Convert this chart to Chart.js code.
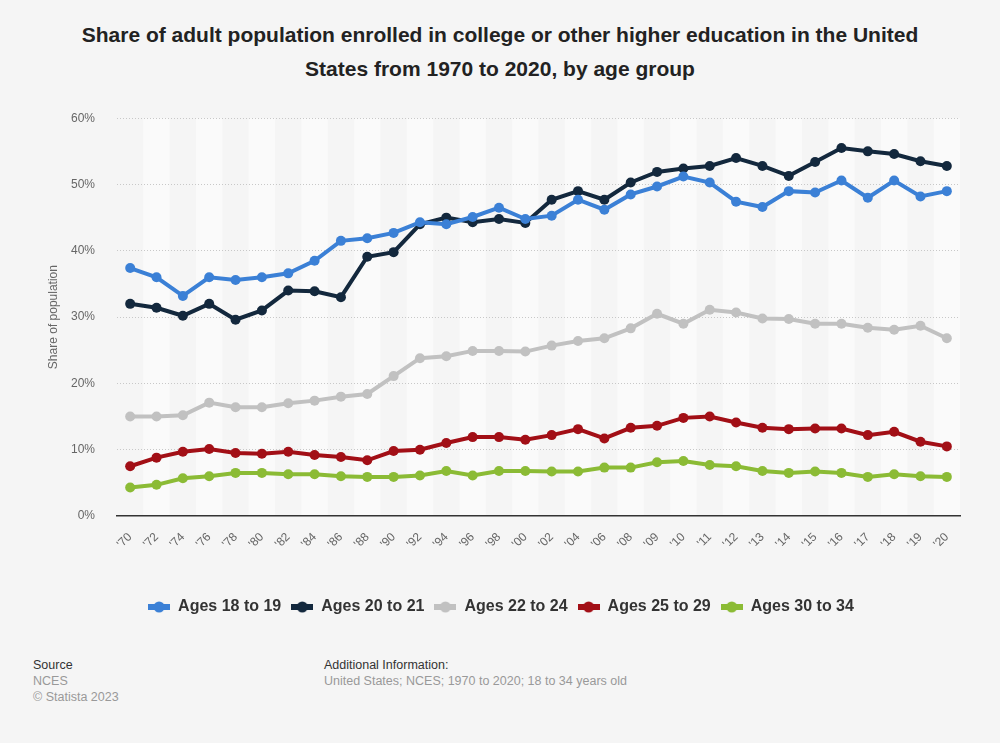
<!DOCTYPE html>
<html>
<head>
<meta charset="utf-8">
<script src="https://cdn.jsdelivr.net/npm/chart.js@4"></script>
<style>
    html, body { margin: 0; padding: 0; }
    body {
        width: 1000px; height: 743px; position: relative; overflow: hidden;
        background: #f5f5f5;
        font-family: "Liberation Sans", Arial, Helvetica, sans-serif;
    }
    #title {
        position: absolute; left: 0; top: 18px; width: 1000px;
        text-align: center; font-weight: bold; font-size: 21px; line-height: 34px; color: #222;
    }
    #chartBox { position: absolute; left: 0; top: 89px; width: 1000px; height: 548px; }
    .foot { position: absolute; top: 657px; font-size: 12.5px; line-height: 16px; color: #999; }
    .foot b { font-weight: normal; color: #333; }
</style>
</head>
<body>
<div id="title">Share of adult population enrolled in college or other higher education in the United<br>States from 1970 to 2020, by age group</div>
<div id="chartBox"><canvas id="chart"></canvas></div>
<div class="foot" style="left:33px"><b>Source</b><br>NCES<br>© Statista 2023</div>
<div class="foot" style="left:324px"><b>Additional Information:</b><br>United States; NCES; 1970 to 2020; 18 to 34 years old</div>

<script>
// Годы (подписи оси X)
const years = ["'70", "'72", "'74", "'76", "'78", "'80", "'82", "'84", "'86", "'88",
    "'90", "'92", "'94", "'96", "'98", "'00", "'02", "'04", "'06", "'08",
    "'09", "'10", "'11", "'12", "'13", "'14", "'15", "'16", "'17", "'18", "'19", "'20"];

// Доли по возрастным группам, %
const ages18to19 = [37.4, 36.0, 33.2, 36.0, 35.6, 36.0, 36.6, 38.5, 41.5, 41.9,
    42.7, 44.3, 44.0, 45.1, 46.5, 44.8, 45.3, 47.7, 46.2, 48.5,
    49.7, 51.2, 50.3, 47.4, 46.6, 49.0, 48.8, 50.6, 48.0, 50.6, 48.2, 49.0];
const ages20to21 = [32.0, 31.4, 30.2, 32.0, 29.6, 31.0, 34.0, 33.9, 33.0, 39.1,
    39.8, 44.0, 45.0, 44.3, 44.8, 44.2, 47.7, 49.0, 47.7, 50.3,
    51.9, 52.4, 52.8, 54.0, 52.8, 51.3, 53.4, 55.5, 55.0, 54.6, 53.5, 52.8];
const ages22to24 = [15.0, 15.0, 15.2, 17.1, 16.4, 16.4, 17.0, 17.4, 18.0, 18.4,
    21.1, 23.8, 24.1, 24.9, 24.9, 24.8, 25.7, 26.4, 26.8, 28.3,
    30.5, 29.0, 31.1, 30.7, 29.8, 29.7, 29.0, 29.0, 28.4, 28.1, 28.7, 26.8];
const ages25to29 = [7.5, 8.8, 9.7, 10.1, 9.5, 9.4, 9.7, 9.2, 8.9, 8.4,
    9.8, 10.0, 11.0, 11.9, 11.9, 11.5, 12.2, 13.1, 11.7, 13.3,
    13.6, 14.8, 15.0, 14.1, 13.3, 13.1, 13.2, 13.2, 12.2, 12.7, 11.2, 10.5];
const ages30to34 = [4.3, 4.7, 5.7, 6.0, 6.5, 6.5, 6.3, 6.3, 6.0, 5.9,
    5.9, 6.1, 6.8, 6.1, 6.8, 6.8, 6.7, 6.7, 7.3, 7.3,
    8.1, 8.3, 7.7, 7.5, 6.8, 6.5, 6.7, 6.5, 5.9, 6.3, 6.0, 5.9];

const seriesNames = ['Ages 18 to 19', 'Ages 20 to 21', 'Ages 22 to 24', 'Ages 25 to 29', 'Ages 30 to 34'];
const seriesData = [ages18to19, ages20to21, ages22to24, ages25to29, ages30to34];
const seriesColors = ['#3b80d6', '#13283d', '#c1c1c1', '#a20f16', '#8bbb35'];

// Маркер легенды: линия с кружком
function legendMarker(color) {
    const c = document.createElement('canvas');
    c.width = 22;
    c.height = 12;
    const g = c.getContext('2d');
    g.fillStyle = color;
    g.fillRect(0, 3, 22, 6);
    g.beginPath();
    g.arc(11, 6, 5.5, 0, Math.PI * 2);
    g.fill();
    return c;
}

// Вертикальные полосы фона в области графика
const stripes = {
    id: 'stripes',
    beforeDraw(chart) {
        const { ctx, chartArea, scales } = chart;
        const half = (scales.x.getPixelForValue(1) - scales.x.getPixelForValue(0)) / 2;
        ctx.save();
        ctx.fillStyle = '#fafafa';
        years.forEach((y, i) => {
            if (i % 2 === 1) {
                const cx = scales.x.getPixelForValue(i);
                ctx.fillRect(cx - half, chartArea.top, half * 2, chartArea.bottom - chartArea.top);
            }
        });
        ctx.restore();
    }
};

const datasets = seriesNames.map((name, i) => ({
    label: name,
    data: seriesData[i],
    borderColor: seriesColors[i],
    backgroundColor: seriesColors[i],
    pointBackgroundColor: seriesColors[i],
    pointBorderColor: seriesColors[i],
    borderWidth: 4,
    pointRadius: 5,
    pointBorderWidth: 0,
    tension: 0,
    fill: false
}));

new Chart(document.getElementById('chart'), {
    type: 'line',
    data: { labels: years, datasets },
    plugins: [stripes],
    options: {
        responsive: true,
        maintainAspectRatio: false,
        animation: false,
        layout: { padding: { top: 17, left: 42, right: 40, bottom: 12 } },
        plugins: {
            legend: {
                position: 'bottom',
                labels: {
                    usePointStyle: true,
                    pointStyleWidth: 22,
                    padding: 10,
                    color: '#333',
                    font: { family: '"Liberation Sans", Arial, sans-serif', size: 16, weight: 'bold' },
                    generateLabels(chart) {
                        return chart.data.datasets.map((ds, i) => ({
                            text: ds.label,
                            pointStyle: legendMarker(seriesColors[i]),
                            fillStyle: seriesColors[i],
                            strokeStyle: seriesColors[i],
                            lineWidth: 0,
                            datasetIndex: i,
                            fontColor: '#333'
                        }));
                    }
                }
            },
            tooltip: { enabled: false }
        },
        scales: {
            x: {
                offset: true,
                grid: { display: false, drawTicks: false },
                border: { display: true, color: '#333', width: 1.5 },
                ticks: {
                    autoSkip: false,
                    maxRotation: 45,
                    minRotation: 45,
                    padding: 14,
                    color: '#666',
                    font: { family: '"Liberation Sans", Arial, sans-serif', size: 12 }
                },
                afterFit(scale) { scale.height = 73; }
            },
            y: {
                min: 0,
                max: 60,
                grid: {
                    drawTicks: false,
                    color: ctx => ctx.tick && ctx.tick.value === 0 ? 'rgba(0,0,0,0)' : '#c8c8c8',
                    lineWidth: 1
                },
                border: { display: false, dash: [1, 2] },
                ticks: {
                    stepSize: 10,
                    padding: 22,
                    color: '#666',
                    font: { family: '"Liberation Sans", Arial, sans-serif', size: 12 },
                    callback: v => v + '%'
                },
                title: {
                    display: true,
                    text: 'Share of population',
                    color: '#666',
                    font: { family: '"Liberation Sans", Arial, sans-serif', size: 12 }
                },
                afterFit(scale) { scale.width = 75; }
            }
        }
    }
});
</script>
</body>
</html>
